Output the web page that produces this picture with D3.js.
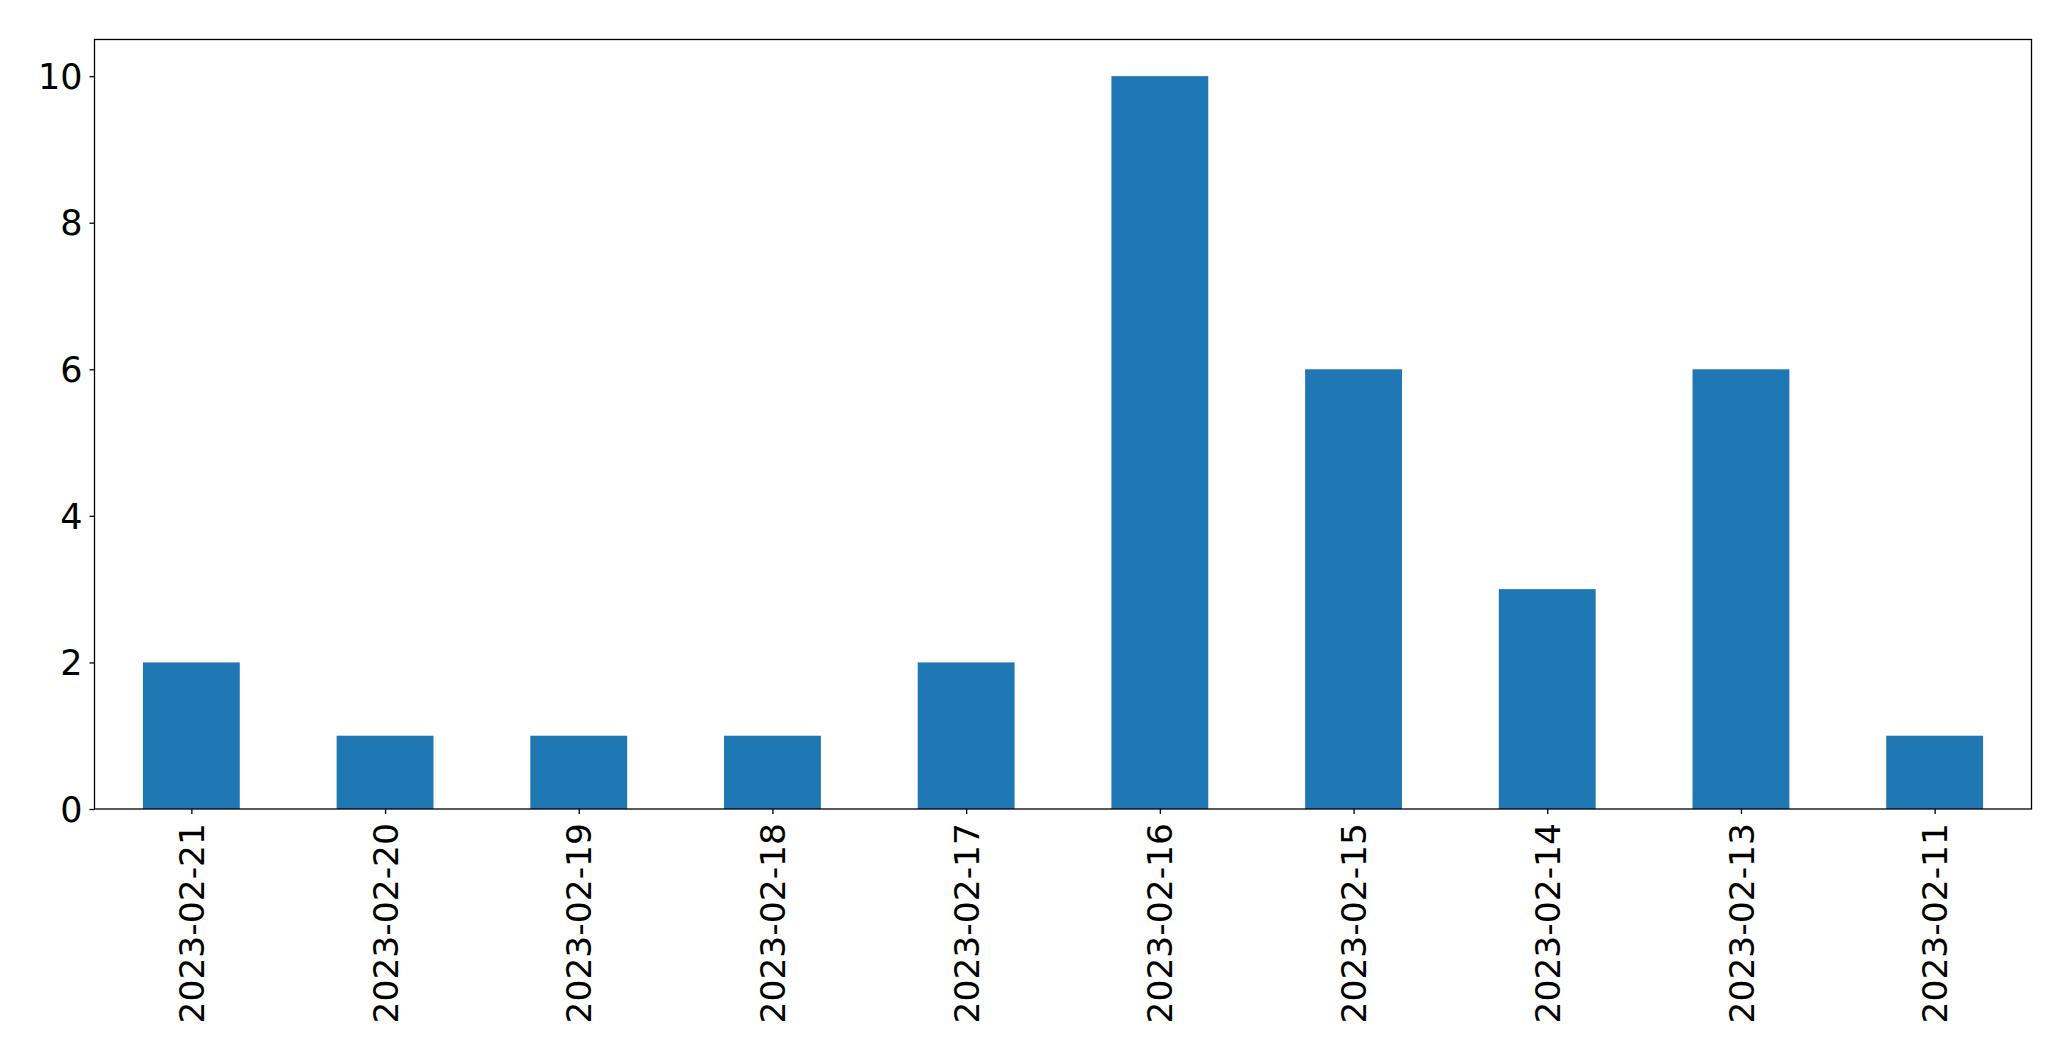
<!DOCTYPE html>
<html>
<head>
<meta charset="utf-8">
<script src="https://cdn.jsdelivr.net/npm/d3@7"></script>
<style>
html,body{margin:0;padding:0;background:#fff;}
svg text{font-family:"DejaVu Sans",sans-serif;fill:#000;}
</style>
</head>
<body>
<svg id="chart" width="2071" height="1061"></svg>
<script>
const categories = ["2023-02-21","2023-02-20","2023-02-19","2023-02-18","2023-02-17","2023-02-16","2023-02-15","2023-02-14","2023-02-13","2023-02-11"];
const values = [2,1,1,1,2,10,6,3,6,1];
const yTicks = [0,2,4,6,8,10];

(function(){
const svg = d3.select("#chart");
const mLeft = 94.5, mRight = 2031.5, mTop = 39.5, mBottom = 809;
const fontSize = 34.5;

const x = d3.scaleLinear().domain([-0.5, categories.length - 0.5]).range([mLeft, mRight]);
const y = d3.scaleLinear().domain([0, 10.5]).range([mBottom, mTop]);

svg.append("rect").attr("x",0).attr("y",0).attr("width",2071).attr("height",1061).attr("fill","#fff");

svg.append("g").selectAll("rect").data(values).join("rect")
  .attr("x", (d,i) => x(i - 0.25))
  .attr("width", (d,i) => x(i + 0.25) - x(i - 0.25))
  .attr("y", d => y(d))
  .attr("height", d => y(0) - y(d))
  .attr("fill", "#1f77b4");

svg.append("rect").attr("x", mLeft).attr("y", mTop).attr("width", mRight-mLeft).attr("height", mBottom-mTop)
  .attr("fill","none").attr("stroke","#000").attr("stroke-width",1.3);

const yAxis = d3.axisLeft(y).tickValues(yTicks).tickSize(5).tickPadding(7).tickFormat(d3.format("d"));
const gy = svg.append("g").attr("transform", `translate(${mLeft},0)`).call(yAxis);
gy.select(".domain").remove();
gy.selectAll(".tick line").attr("stroke","#000").attr("stroke-width",1.3);
gy.selectAll(".tick text").attr("font-size", 35).attr("font-family","DejaVu Sans").attr("dy","0.35em");

const xAxis = d3.axisBottom(x).tickValues(d3.range(categories.length)).tickSize(5).tickPadding(0)
  .tickFormat(i => categories[i]);
const gx = svg.append("g").attr("transform", `translate(0,${mBottom})`).call(xAxis);
gx.select(".domain").remove();
gx.selectAll(".tick line").attr("stroke","#000").attr("stroke-width",1.3);
gx.selectAll(".tick text")
  .attr("font-size", fontSize).attr("font-family","DejaVu Sans")
  .attr("text-anchor","end")
  .attr("transform","translate(0,14) rotate(-90)")
  .attr("x",0).attr("y",0).attr("dy","0.35em");
})();
</script>
</body>
</html>
